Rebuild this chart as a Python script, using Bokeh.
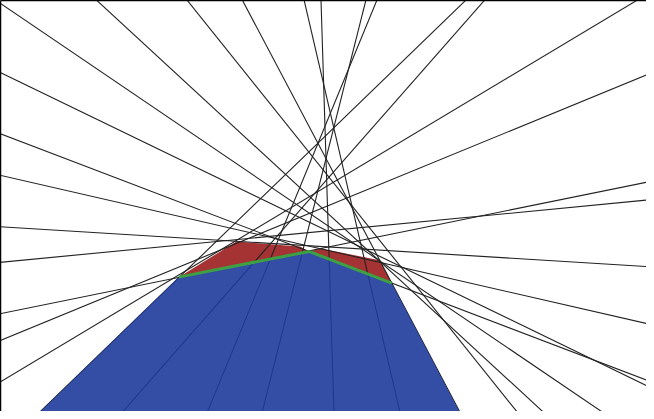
import numpy as np
from bokeh.plotting import figure
from bokeh.models import LinearAxis, FixedTicker, ColumnDataSource
from bokeh.embed import file_html
from bokeh.resources import INLINE

# Lines y = slope * x + intercept
slopes = [-0.684, -0.488, -0.384, -0.231, -0.062, 0.097, 0.205, 0.414, 0.604,
          0.974, 1.146, -1.908, -0.929, -1.257, -4.333, -32.0, 4.0, 2.447]
intercepts = [4.13, 3.43, 2.81, 2.39, 1.87, 1.51, 0.99, 0.72, 0.30,
              -0.39, -1.41, 8.80, 5.06, 6.52, 17.38, 107.2, -10.52, -5.09]

# Upper chain (green) vertices
chain_x = [1.79, 3.10, 3.93]
chain_y = [1.36, 1.62, 1.30]

# Red region vertices (upper boundary, then back along the chain)
red_x = [1.79, 2.37, 3.01, 3.10, 3.22, 3.81, 3.93, 3.10]
red_y = [1.36, 1.72, 1.67, 1.62, 1.65, 1.53, 1.30, 1.62]

# Blue region vertices
blue_x = [1.79, 3.10, 3.93, 4.61, 0.40]
blue_y = [1.36, 1.62, 1.30, 0.0, 0.0]

X_MIN, X_MAX = 0.0, 6.49
Y_MIN, Y_MAX = 0.0, 4.16

p = figure(width=646, height=411, x_range=(X_MIN, X_MAX), y_range=(Y_MIN, Y_MAX),
           output_backend="svg", toolbar_location=None,
           x_axis_location=None, y_axis_location=None,
           min_border=0, outline_line_color=None)
p.grid.visible = False

for loc in ("left", "above"):
    ax = LinearAxis(ticker=FixedTicker(ticks=[]), major_label_text_font_size="0px",
                    major_tick_line_color=None, minor_tick_line_color=None,
                    axis_line_color="black", axis_line_width=1.5,
                    major_tick_out=0, major_label_standoff=0)
    p.add_layout(ax, loc)

p.patch(red_x, red_y, fill_color="#a53333", line_color=None)

m = np.array(slopes)
b = np.array(intercepts)
x0 = np.full(len(m), X_MIN - 1.0)
x1 = np.full(len(m), X_MAX + 1.0)
src = ColumnDataSource(dict(x0=x0, y0=m * x0 + b, x1=x1, y1=m * x1 + b))
p.segment("x0", "y0", "x1", "y1", source=src, line_color="#222222", line_width=1.1)

p.patch(blue_x, blue_y, fill_color="#1f3b9b", fill_alpha=0.9, line_color=None)
p.line(chain_x, chain_y, line_color="#3da043", line_width=3)

open("out.html", "w").write(file_html(p, INLINE))
